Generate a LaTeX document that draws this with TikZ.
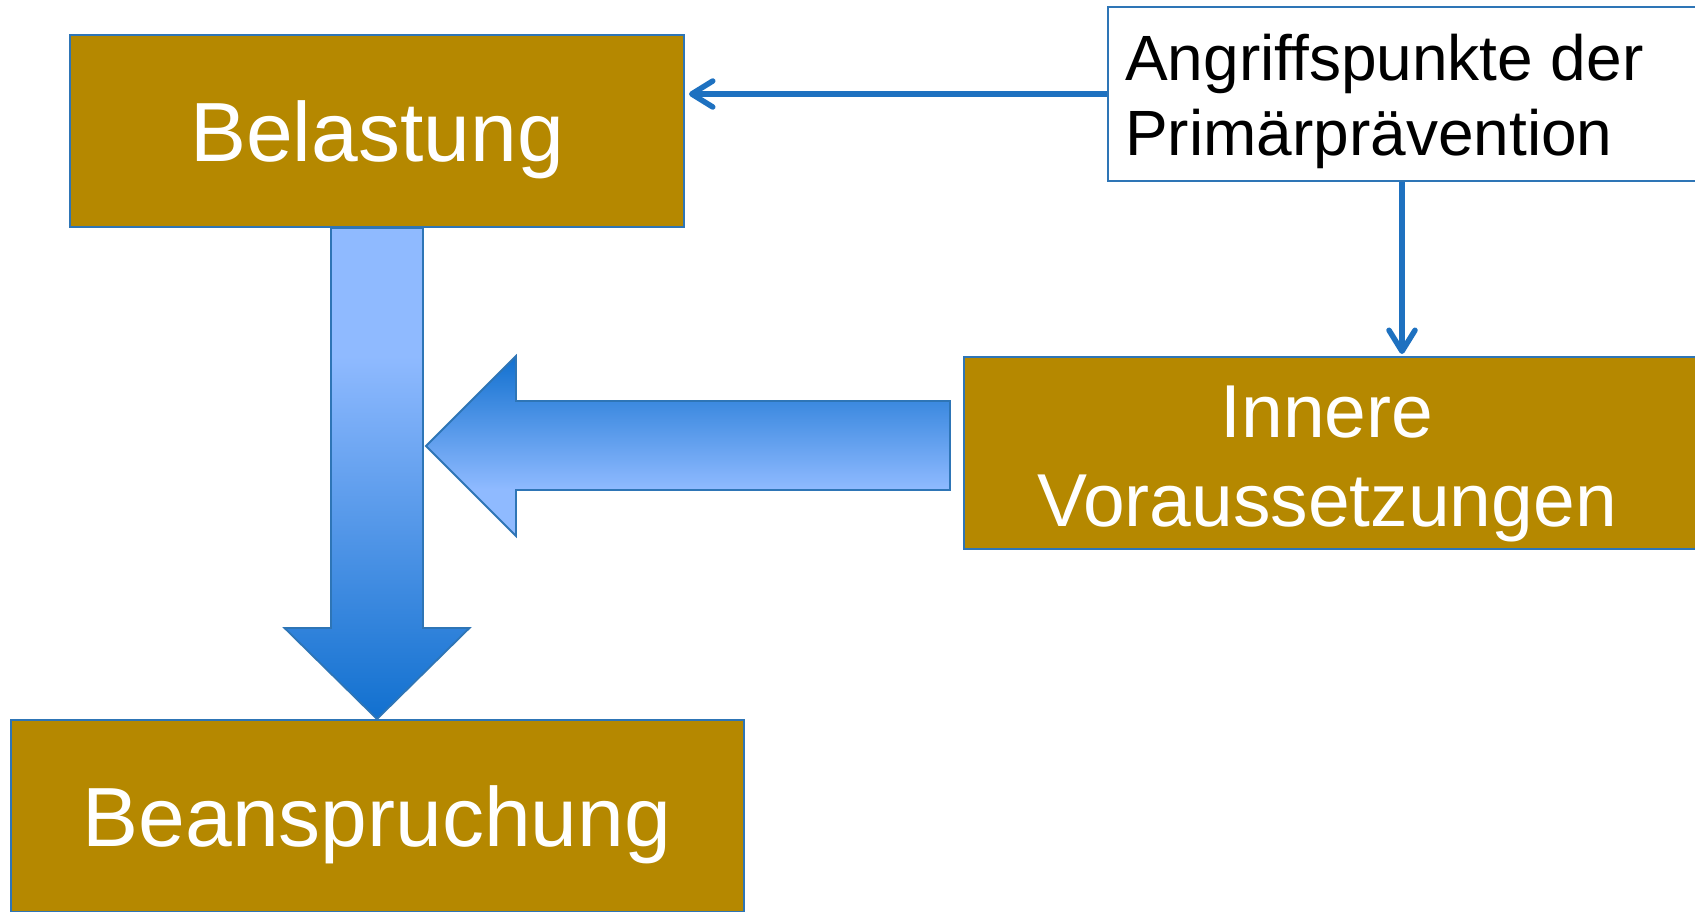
\documentclass[tikz,border=0pt]{standalone}
\usepackage{fontspec}
\setmainfont{Liberation Sans}
\usetikzlibrary{arrows.meta,calc}
\definecolor{boxbrown}{RGB}{181,136,0}
\definecolor{edgeblue}{RGB}{46,117,182}
\definecolor{linkblue}{RGB}{30,113,192}
\definecolor{lightblue}{RGB}{143,186,255}
\definecolor{darkblue}{RGB}{17,112,207}
\pgfdeclareverticalshading{downshade}{100bp}{color(0bp)=(darkblue); color(25bp)=(darkblue); color(62bp)=(lightblue); color(100bp)=(lightblue)}
\pgfdeclareverticalshading{leftshade}{100bp}{color(0bp)=(lightblue); color(38bp)=(lightblue); color(75bp)=(darkblue); color(100bp)=(darkblue)}
\newcommand\fntBig{\fontsize{84}{100}\selectfont}
\newcommand\fntMid{\fontsize{75}{89}\selectfont}
\newcommand\fntSml{\fontsize{64}{75}\selectfont}
\tikzset{
  brownbox/.style={draw=edgeblue, line width=2, fill=boxbrown, inner sep=0, text=white},
  whitebox/.style={draw=edgeblue, line width=1.8, fill=white, inner sep=0},
  wtext/.style={text=white, inner sep=0},
  btext/.style={text=black, inner sep=0},
  link/.style={draw=linkblue, line width=5.5, -{Straight Barb[length=21pt,width=26pt,round]}},
  blockarrow/.style={draw=edgeblue, line width=1.8, line join=miter}
}
\begin{document}
\begin{tikzpicture}[x=1pt,y=-1pt]
\useasboundingbox (0,0) rectangle (1695,911);
\fill[white] (0,0) rectangle (1695,911);
% boxes
\node[brownbox, minimum width=614, minimum height=192, text height=60, text depth=0, font=\fntBig] (bel) at (377,131) {Belastung};
\node[brownbox, minimum width=733, minimum height=192, text height=60, text depth=0, font=\fntBig] (bean) at (377,816) {Beanspruchung};
\node[brownbox, minimum width=760, minimum height=192, anchor=west] (inner) at (963,453) {};
\node[wtext, font=\fntMid, anchor=base] (innerA) at (1327,437) {Innere};
\node[wtext, font=\fntMid, anchor=base] (innerB) at (1327,526) {Voraussetzungen};
\node[whitebox, minimum width=650, minimum height=174, anchor=west] (angr) at (1107,94) {};
\node[btext, font=\fntSml, anchor=base west] (angrA) at (1125,80) {Angriffspunkte der};
\node[btext, font=\fntSml, anchor=base west] (angrB) at (1125,155) {Primärprävention};
% thin connectors
\draw[link, shorten >=4] (angr.west) -- (angr.west -| bel.east);
\coordinate (vtop) at ($(angr.south west)+(295,0)$);
\draw[link, shorten >=2] (vtop) -- (vtop |- inner.north);
% block arrow down: Belastung -> Beanspruchung
\shade[shading=downshade, blockarrow]
  (bel.south) ++(-46,0) -- ($(bean.north)+(-46,-91)$) -- ++(-46.5,0) -- (bean.north)
  -- ++(92.5,-91) -- ++(-46.5,0) -- ($(bel.south)+(46,0)$) -- cycle;
% block arrow left: Innere Voraussetzungen -> down arrow
\coordinate (ltip) at (426,446);
\coordinate (lend) at ($(inner.west)+(-13,-7)$);
\shade[shading=leftshade, blockarrow]
  (ltip) -- ++(90,-90) -- ++(0,45) -- ($(lend)+(0,-45)$) -- ($(lend)+(0,44)$)
  -- ($(ltip)+(90,44)$) -- ++(0,46) -- cycle;
\end{tikzpicture}
\end{document}
